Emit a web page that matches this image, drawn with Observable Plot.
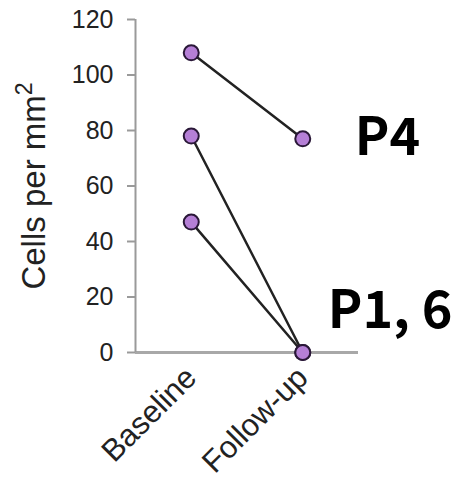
<!DOCTYPE html>
<html>
<head>
<meta charset="utf-8">
<script src="https://cdn.jsdelivr.net/npm/d3@7"></script>
<script src="https://cdn.jsdelivr.net/npm/@observablehq/plot@0.6"></script>
<style>
  html, body { margin: 0; padding: 0; background: #fff; }
</style>
</head>
<body>
<div id="chart"></div>
<script>
const categories = ["Baseline", "Follow-up"];
const patients = ["P4", "P1", "P6"];
const baseline = [108, 78, 47];
const followUp = [77, 0, 0];
const annotations = ["P4", "P1, 6"];
const annotationValues = [77, 0];
const yTicks = [0, 20, 40, 60, 80, 100, 120];
const yLabel = "Cells per mm";
const yLabelSup = "2";

const rows = [];
patients.forEach((p, i) => {
  rows.push({patient: p, t: 0, v: baseline[i]});
  rows.push({patient: p, t: 1, v: followUp[i]});
});
const notes = annotations.map((a, i) => ({label: a, t: 1, v: annotationValues[i]}));

const sans = "'Liberation Sans', Arial, sans-serif";
const bold = "'Noto Sans CJK JP', sans-serif";

const chart = Plot.plot({
  width: 456,
  height: 486,
  marginLeft: 135,
  marginRight: 98,
  marginTop: 19,
  marginBottom: 134,
  style: {fontFamily: sans, fontSize: "25px", color: "#222", background: "#fff"},
  x: {type: "linear", domain: [-0.5, 1.5]},
  y: {domain: [0, 120]},
  marks: [
    Plot.ruleY([0], {stroke: "#a8a8a8", strokeWidth: 3}),
    Plot.ruleX([-0.5], {y1: 0, y2: 120, stroke: "#9a9a9a", strokeWidth: 2}),
    Plot.axisY({
      ticks: yTicks, tickSize: 8, tickPadding: 14, stroke: "#9a9a9a", strokeWidth: 2,
      fill: "#222", fontSize: 25, label: null
    }),
    Plot.text([yLabel], {
      frameAnchor: "left", dx: -101, dy: 0, rotate: -90, fontSize: 33, fill: "#222",
      textAnchor: "middle", className: "ylabel"
    }),
    Plot.axisX({
      ticks: [0, 1], tickFormat: (d) => categories[d], tickSize: 0, tickPadding: 20,
      tickRotate: -45, fontSize: 31, fill: "#222", label: null
    }),
    Plot.line(rows, {x: "t", y: "v", z: "patient", stroke: "#222", strokeWidth: 2.5}),
    Plot.dot(rows, {x: "t", y: "v", r: 7.5, fill: "#b57fd6", stroke: "#2a1838", strokeWidth: 2}),
    Plot.text([notes[0]], {
      x: "t", y: "v", text: "label", dx: 52, dy: 0, textAnchor: "start",
      fontFamily: bold, fontWeight: "bold", fontSize: 52, fill: "#000"
    }),
    Plot.text([notes[1]], {
      x: "t", y: "v", text: "label", dx: 25, dy: -41, textAnchor: "start",
      fontFamily: bold, fontWeight: "bold", fontSize: 52, fill: "#000"
    })
  ]
});
// add a real superscript to the y label
d3.select(chart).selectAll("g.ylabel text").each(function() {
  const t = d3.select(this);
  const txt = t.text();
  t.text(null);
  t.append("tspan").text(txt);
  t.append("tspan").attr("dy", "-0.55em").attr("font-size", "0.7em").text(yLabelSup);
});
document.getElementById("chart").appendChild(chart);
</script>
</body>
</html>
